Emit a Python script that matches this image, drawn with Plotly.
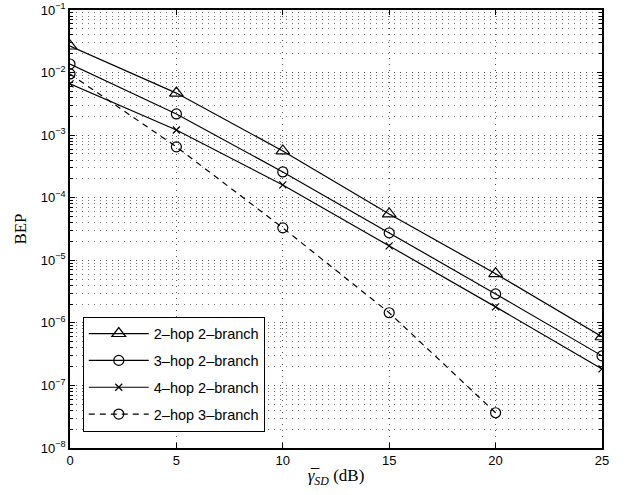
import plotly.graph_objects as go

snr_db = [0, 5, 10, 15, 20, 25]
snr_db_3b = [0, 5, 10, 15, 20]
bep_2hop_2br = [2.66e-2, 4.7e-3, 5.6e-4, 5.5e-5, 6.1e-6, 6.0e-7]
bep_3hop_2br = [1.37e-2, 2.18e-3, 2.58e-4, 2.74e-5, 2.9e-6, 2.97e-7]
bep_4hop_2br = [6.6e-3, 1.21e-3, 1.6e-4, 1.7e-5, 1.8e-6, 1.84e-7]
bep_2hop_3br = [9.5e-3, 6.5e-4, 3.3e-5, 1.45e-6, 3.66e-8]

names = ["2\u2013hop 2\u2013branch", "3\u2013hop 2\u2013branch",
         "4\u2013hop 2\u2013branch", "2\u2013hop 3\u2013branch"]
y_exponents = [-8, -7, -6, -5, -4, -3, -2, -1]
y_tickvals = [10.0 ** e for e in y_exponents]
y_ticktext = ["10<sup>\u2212%d</sup>" % (-e) for e in y_exponents]
x_ticks = [0, 5, 10, 15, 20, 25]

fig = go.Figure()
fig.add_trace(go.Scatter(x=snr_db, y=bep_2hop_2br, name=names[0], legendgroup="a",
                         mode="lines+markers", line=dict(color="black", width=1.2),
                         marker=dict(symbol="triangle-up-open", size=12, color="black", line=dict(width=1.2))))
fig.add_trace(go.Scatter(x=snr_db, y=bep_3hop_2br, name=names[1], legendgroup="b",
                         mode="lines+markers", line=dict(color="black", width=1.2),
                         marker=dict(symbol="circle-open", size=10, color="black", line=dict(width=1.2))))
fig.add_trace(go.Scatter(x=snr_db, y=bep_4hop_2br, name=names[2], legendgroup="c",
                         mode="lines+markers", line=dict(color="black", width=1.2),
                         marker=dict(symbol="x-thin-open", size=7, color="black", line=dict(width=1.2))))
fig.add_trace(go.Scatter(x=snr_db_3b, y=bep_2hop_3br, name=names[3], legendgroup="d",
                         mode="lines+markers", line=dict(color="black", width=1.2, dash="6px,5px"),
                         marker=dict(symbol="circle-open", size=10, color="black", line=dict(width=1.2))))

minor_vals = [m * 10.0 ** e for e in range(-8, -1) for m in range(2, 10)]

fig.update_layout(
    width=628, height=495,
    margin=dict(l=70, r=26, t=10, b=47),
    paper_bgcolor="white", plot_bgcolor="white",
    font=dict(family="Liberation Sans, Arial, sans-serif", size=12, color="black"),
    showlegend=True,
    legend=dict(x=0.024, y=0.3, xanchor="left", yanchor="top",
                bgcolor="white", bordercolor="black", borderwidth=1,
                font=dict(size=14.5), tracegroupgap=5, traceorder="grouped",
                itemwidth=60),
)
fig.update_xaxes(
    range=[0, 25], tickvals=x_ticks, automargin=False,
    showline=True, linecolor="black", linewidth=1.5, mirror="ticks",
    ticks="inside", ticklen=5, tickcolor="black",
    showgrid=True, gridcolor="#555", griddash="1px,5px", gridwidth=1,
    zeroline=False, tickfont=dict(size=13),
    title=dict(text="<i>\u03b3\u0305</i><sub><i>SD</i></sub> (dB)",
               font=dict(family="Liberation Serif, Times New Roman, serif", size=17),
               standoff=2),
)
fig.update_yaxes(
    type="log", range=[-8, -1], tickvals=y_tickvals, ticktext=y_ticktext, automargin=False,
    showline=True, linecolor="black", linewidth=1.5, mirror="ticks",
    ticks="inside", ticklen=5, tickcolor="black",
    showgrid=True, gridcolor="#555", griddash="1px,5px", gridwidth=1,
    zeroline=False, tickfont=dict(size=13),
    minor=dict(tickvals=minor_vals, ticks="inside", ticklen=3, tickcolor="black",
               showgrid=True, gridcolor="#777", griddash="1px,5px", gridwidth=1),
    title=dict(text="BEP", font=dict(family="Liberation Serif, Times New Roman, serif", size=17),
               standoff=10),
)

fig.write_html("out.html", config={"displayModeBar": False},
               post_script="document.body.style.margin='0';")
